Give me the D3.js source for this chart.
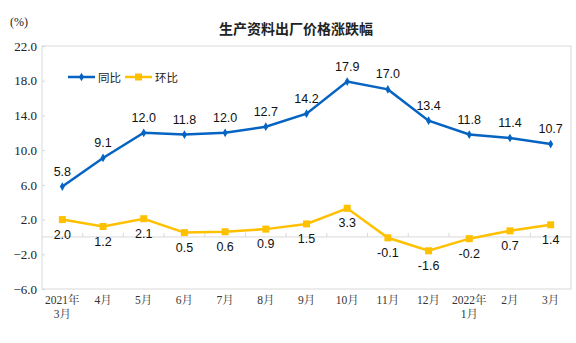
<!DOCTYPE html>
<html><head><meta charset="utf-8">
<script src="https://cdn.jsdelivr.net/npm/d3@7"></script>
<style>body{margin:0;background:#fff;} svg{display:block;}</style>
</head><body>
<svg id="c" width="576" height="343"></svg>
<script>
const categories = [["2021年","3月"],["4月"],["5月"],["6月"],["7月"],["8月"],["9月"],["10月"],["11月"],["12月"],["2022年","1月"],["2月"],["3月"]];
const yoy = [5.8, 9.1, 12.0, 11.8, 12.0, 12.7, 14.2, 17.9, 17.0, 13.4, 11.8, 11.4, 10.7];
const mom = [2.0, 1.2, 2.1, 0.5, 0.6, 0.9, 1.5, 3.3, -0.1, -1.6, -0.2, 0.7, 1.4];
const yTicks = [22, 18, 14, 10, 6, 2, -2, -6];
const seriesNames = ["同比", "环比"];
const title = "生产资料出厂价格涨跌幅";

const svg = d3.select("#c");
const L = 42, R = 571, T = 46, B = 289;
const x = d3.scaleBand().domain(d3.range(categories.length)).range([L, R]);
const y = d3.scaleLinear().domain([-6, 22]).range([B, T]);
const cx = i => x(i) + x.bandwidth() / 2;
const blue = "#0563C1", yellow = "#FFC000";

// frame
svg.append("rect").attr("x", L).attr("y", T).attr("width", R - L).attr("height", B - T)
  .attr("fill", "none").attr("stroke", "#d9d9d9").attr("stroke-width", 1);

// zero axis with ticks
svg.append("line").attr("x1", L).attr("x2", R).attr("y1", y(0)).attr("y2", y(0))
  .attr("stroke", "#d9d9d9");
d3.range(1, categories.length).forEach(i => {
  svg.append("line").attr("x1", x(i)).attr("x2", x(i)).attr("y1", y(0) - 4).attr("y2", y(0))
    .attr("stroke", "#d9d9d9");
});

// y axis
const yAxis = d3.axisLeft(y).tickValues(yTicks).tickFormat(d3.format(".1f")).tickSize(-3).tickPadding(8);
const ga = svg.append("g").attr("transform", `translate(${L},0)`).call(yAxis);
ga.select(".domain").remove();
ga.selectAll(".tick line").attr("stroke", "#d9d9d9");
ga.selectAll(".tick text").attr("font-family", "'Liberation Serif', serif").attr("font-size", 13).attr("fill", "#222").attr("x", -5);

// x labels
categories.forEach((c, i) => {
  const t = svg.append("text").attr("x", cx(i)).attr("y", 304).attr("text-anchor", "middle")
    .attr("font-family", "'Liberation Serif', 'Noto Serif CJK SC', serif").attr("font-size", 11.5).attr("fill", "#333");
  c.forEach((s, k) => t.append("tspan").attr("x", cx(i)).attr("dy", k === 0 ? 0 : 14).text(s));
});

// title & unit
svg.append("text").attr("x", 296).attr("y", 34).attr("text-anchor", "middle")
  .attr("font-family", "'Noto Sans CJK SC', sans-serif").attr("font-size", 14).attr("font-weight", "bold").attr("fill", "#222").text(title);
svg.append("text").attr("x", 19).attr("y", 26).attr("text-anchor", "middle")
  .attr("font-family", "'Liberation Serif', serif").attr("font-size", 12).attr("fill", "#222").text("(%)");

const line = d3.line().x((d, i) => cx(i)).y(d => y(d));
// yoy
svg.append("path").datum(yoy).attr("d", line).attr("fill", "none").attr("stroke", blue).attr("stroke-width", 2.5);
svg.selectAll(".yd").data(yoy).enter().append("path")
  .attr("transform", (d, i) => `translate(${cx(i)},${y(d)})`)
  .attr("d", d3.symbol(d3.symbolDiamond, 22)).attr("fill", blue);
svg.selectAll(".yl").data(yoy).enter().append("text")
  .attr("x", (d, i) => cx(i)).attr("y", d => y(d) - 11).attr("text-anchor", "middle")
  .attr("font-family", "'Liberation Sans', Arial, sans-serif").attr("font-size", 12.5).attr("fill", "#111")
  .text(d => d.toFixed(1));
// mom
svg.append("path").datum(mom).attr("d", line).attr("fill", "none").attr("stroke", yellow).attr("stroke-width", 2.5);
svg.selectAll(".md").data(mom).enter().append("rect")
  .attr("x", (d, i) => cx(i) - 3.5).attr("y", d => y(d) - 3.5).attr("width", 7).attr("height", 7).attr("fill", yellow);
svg.selectAll(".ml").data(mom).enter().append("text")
  .attr("x", (d, i) => cx(i)).attr("y", d => y(d) + 19).attr("text-anchor", "middle")
  .attr("font-family", "'Liberation Sans', Arial, sans-serif").attr("font-size", 12.5).attr("fill", "#111")
  .text(d => d.toFixed(1));

// legend
const lg = svg.append("g");
[[blue, 68, seriesNames[0]], [yellow, 125, seriesNames[1]]].forEach(([col, lx, name], k) => {
  lg.append("line").attr("x1", lx).attr("x2", lx + 27).attr("y1", 77).attr("y2", 77).attr("stroke", col).attr("stroke-width", 2.5);
  if (k === 0) lg.append("path").attr("transform", `translate(${lx + 13.5},77)`).attr("d", d3.symbol(d3.symbolDiamond, 22)).attr("fill", col);
  else lg.append("rect").attr("x", lx + 10).attr("y", 73.5).attr("width", 7).attr("height", 7).attr("fill", col);
  lg.append("text").attr("x", lx + 30).attr("y", 81.5).attr("font-family", "'Noto Sans CJK SC', sans-serif").attr("font-size", 11.5).attr("fill", "#222").text(name);
});
</script>
</body></html>
